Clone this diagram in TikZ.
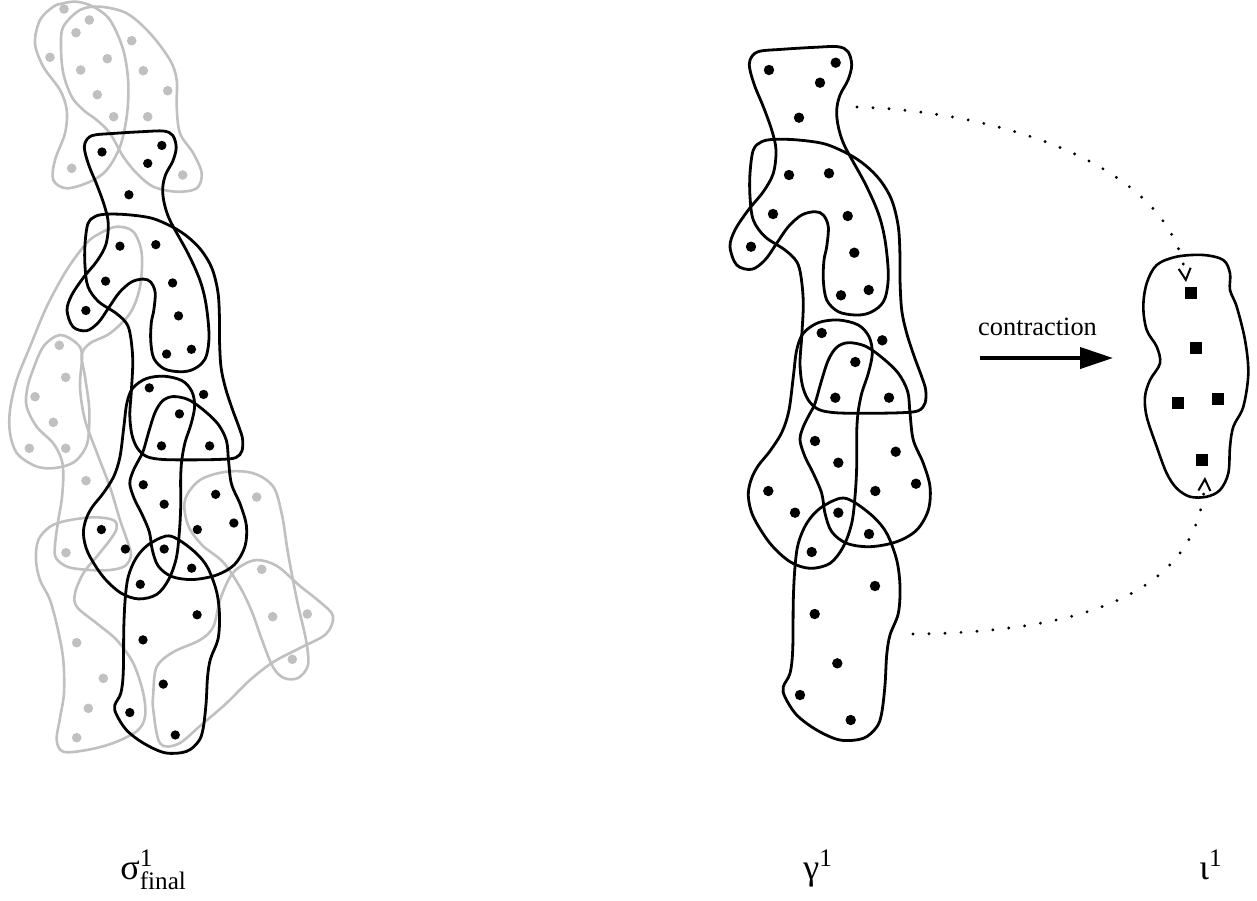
\documentclass[tikz,border=0pt]{standalone}
\usepackage{amsmath}
\usepackage{fontspec}
\setmainfont{Liberation Serif}
\usetikzlibrary{arrows.meta}
\definecolor{ghostgrey}{RGB}{192,192,192}

\tikzset{
  cluster/.style={draw=black, line width=1.4pt},
  ghost/.style={draw=ghostgrey, line width=1.3pt},
  blob/.style={smooth cycle, tension=0.55},
  link/.style={line width=1.6pt, line cap=round, dash pattern=on 0pt off 8pt,
    -{Straight Barb[length=5.8pt,width=6pt,line width=1pt]}},
  bigarrow/.style={line width=2pt, -{Triangle[length=16.5pt,width=10.5pt]}},
  label/.style={anchor=base west, font=\fontsize{18}{21}\selectfont, inner sep=0pt}
}

% the five black clusters of gamma^1 with their points
\newcommand\drawclusters{%
  \draw[cluster] plot[blob] coordinates {(750,60) (758,51.7) (782,49.3) (815,47.3) (838,46.7) (848,51.7) (851.7,65) (848,80) (840,95) (836.7,110) (838.3,126.7) (845,146.7) (865,183.3) (878.3,213.3) (885,240) (888.3,273.3) (886,295) (880,306) (868.3,313.3) (855,315) (838.3,311.7) (826.7,300) (823.3,280) (824,260) (826.7,246.7) (828.3,226.7) (823.3,215) (815,211.7) (801.7,215) (788.3,226.7) (776.7,243.3) (765,260) (751.7,269.3) (736.7,265) (730,246.7) (735,230) (748.3,210) (763.3,191.7) (773.3,173.3) (776,150) (771.7,130) (763.3,106.7) (755,86.7) (750,70)};
  \draw[cluster] plot[blob] coordinates {(761.7,141.7) (775,139.3) (798.3,140) (825,144) (848.3,154) (865,165) (880,180) (891.7,200) (898.3,226.7) (900,256.7) (900,280) (901.7,310) (906.7,333.3) (914.3,356.7) (921.7,376.7) (925.7,390) (925,403.3) (918.3,410.7) (901.7,412.7) (865,413.3) (835,412.7) (818.3,409.3) (808.3,400) (802.3,385) (800,363.3) (801.7,336.7) (803.3,303.3) (801,276.7) (796.7,261.7) (785,250) (765,236.7) (753.3,220) (750,196.7) (750,173.3) (753.3,150)};
  \draw[cluster] plot[blob] coordinates {(838.3,320) (858.3,325) (869,336.7) (872.3,353.3) (868.3,373.3) (861.7,393.3) (858,413) (856.7,433.3) (856.7,466.7) (855,496.7) (851.7,523.3) (843.3,546.7) (830,563.3) (810,568.3) (790,561.7) (770,543.3) (753.3,516.7) (748.3,496) (751,480) (758,466) (770,451) (782,432) (789,410) (793.3,376.7) (796.7,350) (803.3,333.3) (818.3,322.7)};
  \draw[cluster] plot[blob] coordinates {(848.3,342.7) (865,346) (881.7,357.3) (898.3,373.3) (907.7,391.7) (910,413.3) (913.3,440) (923.3,463.3) (930,486.7) (928.3,510) (916.7,530) (896.7,541.7) (870,546.7) (846.7,543.3) (831.7,531.7) (825,513.3) (821.7,493.3) (813.3,473.3) (805,456.7) (800,440) (803.3,426.7) (810,413.3) (815,403.3) (821.7,380) (828.3,360) (836.7,347.3)};
  \draw[cluster] plot[blob] coordinates {(840,498.3) (853.3,501.7) (873.3,516.7) (886.7,533.3) (896.7,560) (900,586.7) (898.3,613.3) (890,635) (886.7,655) (885,685) (881.7,713) (876.7,727) (863.3,738.3) (840,740) (816.7,730) (796.7,715) (785,697) (783.3,686.7) (790,673.3) (792.7,650) (793.3,600) (795,566.7) (798.3,543.3) (806.7,523.3) (820,508.3)};
  \foreach \x/\y in {769/70, 835.7/62.7, 820/82.7, 799/117.7, 789/175, 829/173.3,
      773/214, 847.7/216, 751/246.7, 854.3/252.7, 841/295.3, 868.7/290,
      821.7/333, 882.3/340.3, 855.3/362, 835.3/397.7, 889/397.7, 815/441,
      838.3/462.7, 895.7/451.7, 768.3/491, 875.3/491, 916/483.7, 795/512.7,
      838.3/512.7, 869/534, 811.7/552, 875/586, 814.7/614, 837.3/663.3,
      800/695, 850.7/720}
    \fill (\x,\y) circle[radius=5.2];
}

\begin{document}
\begin{tikzpicture}[x=0.5pt, y=-0.5pt]
\useasboundingbox (0,0) rectangle (1257,900);

% ---- sigma^1_final : grey clusters behind ----
\draw[ghost] plot[blob] coordinates {(63.3,3.3) (76.7,1.7) (93.3,6.7) (110,20) (123.3,50) (128.3,83.3) (126.7,116.7) (120,146.7) (106.7,170) (90,181.7) (66.7,188.3) (53.3,180) (55,160) (65,133.3) (66.7,110) (60,90) (43.3,66.7) (35,43.3) (40,20) (53.3,6.7)};
\draw[ghost] plot[blob] coordinates {(63.3,26.7) (80,10) (100,6.7) (126.7,13.3) (150,33.3) (170,60) (176.7,80) (176.7,106.7) (180,133.3) (193.3,153.3) (201.7,173.3) (196.7,188.3) (176.7,191.7) (153.3,186.7) (136.7,173.3) (123.3,156.7) (110,133.3) (96.7,120) (83.3,110) (71.7,96.7) (63.3,73.3) (61,46.7)};
\draw[ghost] plot[blob] coordinates {(116.7,226.7) (133.3,231.7) (141.7,253.3) (140,286.7) (130,313.3) (110,333.3) (90,343.3) (81.7,355) (85,376.7) (89.3,410) (87.3,443) (76.7,460) (63,466.5) (47,468.3) (33,465) (16.7,453) (10,433) (10,410) (16.7,380) (30,346.7) (46.7,306.7) (66.7,270) (86.7,243) (100,233.3)};
\draw[ghost] plot[blob] coordinates {(60,335) (76.7,343.3) (82,355) (80,387) (85,420) (97,453) (110,487) (120,520) (127,540) (131,555) (125,566) (110,570) (90,570) (68,567) (56,558) (55,545) (58.3,520) (61.7,500) (63.3,476.7) (61.7,460) (53.3,443.3) (36.7,426.7) (26.7,406.7) (27,390) (31.7,373.3) (43.3,346.7)};
\draw[ghost] plot[blob] coordinates {(113.3,520) (116.7,528.3) (110,540) (96.7,556.7) (83.3,573.3) (75,593.3) (77,607) (96.7,623.3) (116.7,640) (133.3,663.3) (143.3,693.3) (145,716.7) (137,731) (113.3,743) (86.7,750) (63.3,751.7) (56.7,740) (60,718) (64,693) (63.3,660) (58,630) (50,600) (40,580) (36,560) (38.3,540) (50,526.7) (66.7,520.7) (93.3,517.3)};
\draw[ghost] plot[blob] coordinates {(160,743.3) (153.3,710) (153.3,693.3) (156.7,666.7) (173.3,652) (200,640) (213.3,626.7) (220,600) (230,577) (241,566) (257,560) (277,566) (300,586) (320,602) (333,616) (326,634) (300,648) (273.3,662) (250,680) (226.7,703) (200,726) (178,744)};
\draw[ghost] plot[blob] coordinates {(185,500) (200,480) (226.7,471.7) (253.3,473.3) (273.3,486.7) (282,515) (287,547) (292,575) (298,605) (306,640) (308,665) (298,678) (284,678) (273,667) (262,640) (252,612) (240,587) (223,562) (202,545) (188,525)};
\foreach \x/\y in {64/9, 89.3/20, 76/32.7, 131.7/40.7, 50/57.3, 107.3/58.7, 80.7/70,
    143.3/70.7, 167.7/90.7, 97.3/94.7, 113.7/116.7, 147.7/116.7, 71.7/168.3,
    182.7/175, 59.3/345.3, 65.7/377.3, 35/396.7, 53.3/422.3, 29.3/448.3,
    65.7/448.3, 86/480.7, 66/552.7, 76.7/642.7, 103.3/678.3, 88.3/708.3,
    76.7/737.7, 256.7/497, 261.7/569.3, 272.7/616.7, 307.3/614, 292.3/659.3}
  \fill[ghostgrey] (\x,\y) circle[radius=4.8];

% ---- sigma^1_final : black clusters (same as gamma^1, smaller) ----
\begin{scope}[shift={(-587.7,89.2)}, scale=0.8969]
  \drawclusters
\end{scope}

% ---- gamma^1 ----
\drawclusters

% ---- iota^1 : the contracted cluster ----
\draw[cluster, line width=1.3pt] plot[blob] coordinates {(1156.7,265) (1176.7,256.7) (1203.3,255) (1223.3,260) (1230,273.3) (1230,290) (1236.7,306.7) (1245,340) (1248.3,373.3) (1243.3,406.7) (1233.3,426.7) (1230,446.7) (1228.3,473.3) (1220,490) (1206.7,496.7) (1190,496.7) (1176.7,488.3) (1166.7,473.3) (1156.7,446.7) (1146.7,416.7) (1145,396.7) (1150,380) (1160,363.3) (1156.7,346.7) (1146.7,330) (1143.3,306.7) (1146.7,283.3)};
\foreach \x/\y in {1190.7/292.7, 1195.7/347.7, 1178.3/403.3, 1218.3/399.3, 1201.7/460}
  \fill (\x-6,\y-6) rectangle (\x+6,\y+6);

% ---- links between gamma^1 and iota^1 ----
\coordinate (topfrom) at (857,107);
\coordinate (topto) at (1186,282);
\coordinate (botfrom) at (913,634);
\coordinate (botto) at (1205,477);
\draw[link] (topfrom) .. controls (1010,112) and (1175,170) .. (topto);
\draw[link] (botfrom) .. controls (1090,632) and (1200,590) .. (botto);

% ---- contraction arrow ----
\coordinate (cfrom) at (980,358);
\coordinate (cto) at (1113,358);
\draw[bigarrow] (cfrom) -- (cto);
\node[anchor=base, font=\fontsize{13.2}{16}\selectfont, inner sep=0pt] (contractlabel) at (1037.5,335) {contraction};

% ---- labels ----
\node[label] (lsigma) at (120,879) {σ$^{\text{1}}_{\text{final}}$};
\node[label] (lgamma) at (803,879) {γ$^{\text{1}}$};
\node[label] (liota) at (1199,879) {ι$^{\text{1}}$};
\end{tikzpicture}
\end{document}
